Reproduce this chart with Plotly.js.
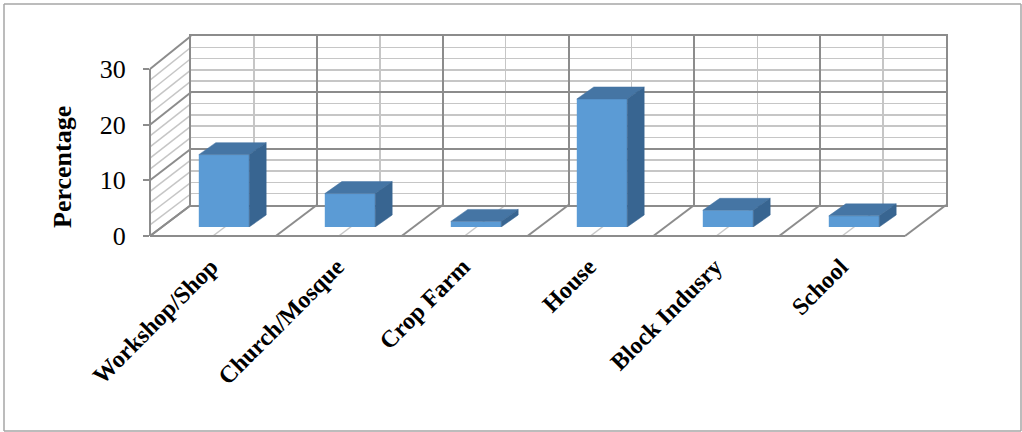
<!DOCTYPE html>
<html><head><meta charset="utf-8">
<script src="https://cdn.plot.ly/plotly-3.0.1.min.js"></script>
<style>html,body{margin:0;padding:0;background:#fff}</style>
</head><body>
<div id="chart" style="width:1022px;height:432px"></div>
<script>
const categories = ['Workshop/Shop', 'Church/Mosque', 'Crop Farm', 'House', 'Block Indusry', 'School'];
const percentages = [13, 6, 1, 23, 3, 2];
const yTickValues = [0, 10, 20, 30];
const yTickLabels = ['0', '10', '20', '30'];
const yAxisTitle = 'Percentage';

const W = 1022, H = 432;
const px = v => v / W, py = v => 1 - v / H;
const DARK = '#8c8c8c', LIGHT = '#c6c6c6';
const FONT = 'Liberation Serif, Times New Roman, serif';
const FRONT = '#5B9BD5', TOP = '#4575A4', SIDE = '#386591';

const barWidth = 0.4;
const depthX = 17 / 126;
const depthY = 12 / (167 / 30);
const idx = categories.map((c, i) => i);

const traces = [];
traces.push({type: 'scatter', x: [0], y: [0], xaxis: 'x', yaxis: 'y', mode: 'markers',
  marker: {opacity: 0}, hoverinfo: 'skip', showlegend: false});
traces.push({type: 'bar', x: idx, y: percentages, xaxis: 'x2', yaxis: 'y2', width: barWidth,
  marker: {color: FRONT, line: {width: 0}}, hoverinfo: 'skip', showlegend: false});
percentages.forEach((v, i) => {
  const l = i - barWidth / 2, r = i + barWidth / 2;
  traces.push({type: 'scatter', xaxis: 'x2', yaxis: 'y2', mode: 'lines', fill: 'toself',
    fillcolor: TOP, line: {width: 0.5, color: TOP},
    x: [l, r, r + depthX, l + depthX, l], y: [v, v, v + depthY, v + depthY, v],
    hoverinfo: 'skip', showlegend: false});
  traces.push({type: 'scatter', xaxis: 'x2', yaxis: 'y2', mode: 'lines', fill: 'toself',
    fillcolor: SIDE, line: {width: 0.5, color: SIDE},
    x: [r, r + depthX, r + depthX, r, r], y: [0, depthY, v + depthY, v, 0],
    hoverinfo: 'skip', showlegend: false});
});
traces.push({type: 'scatter', x: [0], y: [0], xaxis: 'x2', yaxis: 'y3', mode: 'markers',
  marker: {opacity: 0}, hoverinfo: 'skip', showlegend: false});

const shapes = [];
const line = (x0, y0, x1, y1, c, w) => shapes.push({type: 'line', xref: 'paper', yref: 'paper',
  x0: px(x0), y0: py(y0), x1: px(x1), y1: py(y1), layer: 'below', line: {color: c, width: w}});
for (let k = 0; k <= 12; k++) {
  const off = 755 * k / 12;
  line(191 + off, 205, 150 + off, 236, k % 2 === 0 ? DARK : LIGHT, k % 2 === 0 ? 2 : 1.5);
}
line(150, 236, 905, 236, DARK, 2);
for (let j = 0; j <= 15; j++) {
  line(191, 205 - 169 * j / 15, 150, 236 - 167 * j / 15, j % 5 === 0 ? DARK : LIGHT, j % 5 === 0 ? 2 : 1.5);
}
line(4, 4, 1021, 4, '#a6a6a6', 1.5);
line(4, 4, 4, 431, '#a6a6a6', 1.5);
line(4, 431, 1021, 431, '#a6a6a6', 1.5);
line(1021, 4, 1021, 431, '#a6a6a6', 1.5);

const layout = {
  width: W, height: H,
  margin: {l: 0, r: 0, t: 0, b: 0},
  paper_bgcolor: '#ffffff', plot_bgcolor: 'rgba(0,0,0,0)',
  showlegend: false,
  xaxis: {domain: [px(191), px(946)], range: [0, 12], anchor: 'y',
    tick0: 0, dtick: 2, showgrid: true, gridcolor: DARK, gridwidth: 2,
    minor: {dtick: 1, showgrid: true, gridcolor: LIGHT, gridwidth: 1.5},
    showline: true, mirror: true, linecolor: DARK, linewidth: 2,
    showticklabels: false, ticks: '', zeroline: false, fixedrange: true},
  yaxis: {domain: [py(205), py(36)], range: [0, 30], anchor: 'x',
    tick0: 0, dtick: 10, showgrid: true, gridcolor: DARK, gridwidth: 2,
    minor: {dtick: 2, showgrid: true, gridcolor: LIGHT, gridwidth: 1.5},
    showline: true, mirror: true, linecolor: DARK, linewidth: 2,
    showticklabels: false, ticks: '', zeroline: false, fixedrange: true},
  xaxis2: {domain: [px(161), px(917)], range: [-0.5, 5.5], anchor: 'y2',
    tickmode: 'array', tickvals: idx, ticktext: categories, tickangle: -45,
    tickfont: {family: FONT, size: 24, weight: 'bold', color: '#000'},
    ticklabelstandoff: 20, ticklabelshift: -13,
    showgrid: false, zeroline: false, showline: false, ticks: '', fixedrange: true},
  yaxis2: {domain: [py(227), py(60)], range: [0, 30], anchor: 'x2', visible: false, fixedrange: true},
  yaxis3: {domain: [py(236), py(69)], range: [0, 30], anchor: 'free', position: px(150), side: 'left',
    tickmode: 'array', tickvals: yTickValues, ticktext: yTickLabels,
    ticks: 'outside', ticklen: 6, tickcolor: DARK, tickwidth: 2,
    showline: true, linecolor: DARK, linewidth: 2, showgrid: false, zeroline: false,
    ticklabelstandoff: 12,
    tickfont: {family: FONT, size: 26, color: '#000'}, fixedrange: true},
  annotations: [{text: yAxisTitle, xref: 'paper', yref: 'paper', x: px(62), y: py(167),
    textangle: -90, showarrow: false, xanchor: 'center', yanchor: 'middle',
    font: {family: FONT, size: 26, weight: 'bold', color: '#000'}}],
  shapes: shapes
};
Plotly.newPlot('chart', traces, layout, {staticPlot: true, displayModeBar: false});
</script>
</body></html>
